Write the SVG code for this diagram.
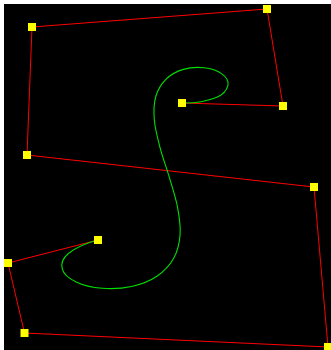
<svg xmlns="http://www.w3.org/2000/svg" width="331" height="350" viewBox="0 0 331 350">
<style>
.edge{fill:none;stroke:#ff0000;stroke-width:1}
.curve{fill:none;stroke:#00e000;stroke-width:1.1}
.pt{fill:#ffff00}
</style>
<rect x="0" y="0" width="331" height="350" fill="#ffffff"/>
<rect x="4" y="4" width="327" height="346" fill="#000000"/>
<g id="connectors">
<polyline class="edge" points="182,103 283,106 267,9 32,27 27,155 314,187 328,347 24.5,333 8,263 98,240"/>
</g>
<g id="curve">
<path class="curve" d="M182,103 C197.15,103.45 208.53,100.38 216.2,97.4 C223.87,94.42 227.12,89.07 228,85.1 C228.88,81.13 225.5,76.5 221.5,73.6 C217.5,70.7 210.37,68.4 204,67.7 C197.63,67 189.65,67.47 183.3,69.4 C176.95,71.33 170.48,74.78 165.9,79.3 C161.32,83.82 157.73,89.77 155.8,96.5 C153.87,103.23 153.62,111.27 154.3,119.7 C154.98,128.13 157.43,137.6 159.9,147.1 C162.37,156.6 166.18,166.78 169.1,176.7 C172.02,186.62 175.57,196.97 177.4,206.6 C179.23,216.23 180.72,225.88 180.1,234.5 C179.48,243.12 177.57,251.35 173.7,258.3 C169.83,265.25 163.93,271.5 156.9,276.2 C149.87,280.9 140.63,284.48 131.5,286.5 C122.37,288.52 111.33,289.05 102.1,288.3 C92.87,287.55 82.73,285.18 76.1,282 C69.47,278.82 63.58,273.95 62.3,269.2 C61.02,264.45 62.45,258.37 68.4,253.5 C74.35,248.63 84.5,243.45 98,240"/>
</g>
<g id="p0"><rect class="pt" x="178" y="99" width="8" height="8"/></g>
<g id="p1"><rect class="pt" x="279" y="102" width="8" height="8"/></g>
<g id="p2"><rect class="pt" x="263" y="5" width="8" height="8"/></g>
<g id="p3"><rect class="pt" x="28" y="23" width="8" height="8"/></g>
<g id="p4"><rect class="pt" x="23" y="151" width="8" height="8"/></g>
<g id="p5"><rect class="pt" x="310" y="183" width="8" height="8"/></g>
<g id="p6"><rect class="pt" x="324" y="343" width="8" height="8"/></g>
<g id="p7"><rect class="pt" x="20.5" y="329" width="8" height="8"/></g>
<g id="p8"><rect class="pt" x="4" y="259" width="8" height="8"/></g>
<g id="p9"><rect class="pt" x="94" y="236" width="8" height="8"/></g>
</svg>
